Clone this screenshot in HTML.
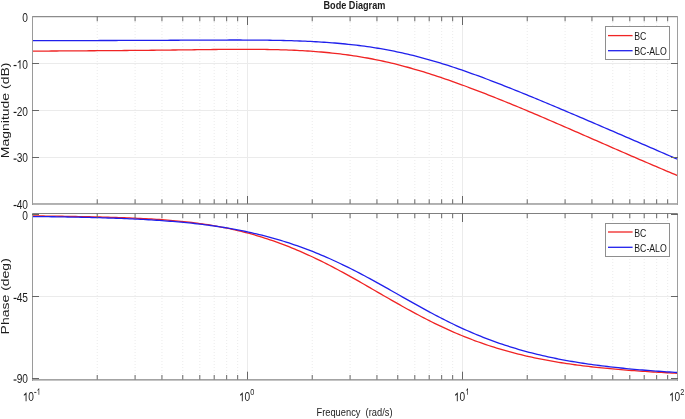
<!DOCTYPE html>
<html><head><meta charset="utf-8"><title>Bode Diagram</title>
<style>
html,body{margin:0;padding:0;background:#fff;width:685px;height:419px;overflow:hidden}
svg{display:block}
text{font-family:"Liberation Sans",sans-serif;fill:#1c1c1c}
.txt{filter:grayscale(1)}
.num text,.num path{fill:#1c1c1c}
.sup{font-size:9px}
.lg{font-size:10.9px;fill:#1a1a1a}
.ttl{font-size:10.6px;font-weight:bold;fill:#1a1a1a}
.lab{font-size:11.5px}
.ylab{font-size:14px}
</style></head><body>
<svg width="685" height="419" viewBox="0 0 685 419">
<defs>
<clipPath id="c1"><rect x="32.5" y="16.5" width="645.0" height="187.2"/></clipPath>
<clipPath id="c2"><rect x="32.5" y="213.5" width="645.0" height="166.0"/></clipPath>
</defs>
<rect width="685" height="419" fill="#fff"/>
<line x1="247.5" y1="16" x2="247.5" y2="204" stroke="#ebebeb"/>
<line x1="462.5" y1="16" x2="462.5" y2="204" stroke="#ebebeb"/>
<line x1="97.22" y1="16" x2="97.22" y2="204" stroke="#ebebeb" stroke-dasharray="1 2"/>
<line x1="135.08" y1="16" x2="135.08" y2="204" stroke="#ebebeb" stroke-dasharray="1 2"/>
<line x1="161.94" y1="16" x2="161.94" y2="204" stroke="#ebebeb" stroke-dasharray="1 2"/>
<line x1="182.78" y1="16" x2="182.78" y2="204" stroke="#ebebeb" stroke-dasharray="1 2"/>
<line x1="199.80" y1="16" x2="199.80" y2="204" stroke="#ebebeb" stroke-dasharray="1 2"/>
<line x1="214.20" y1="16" x2="214.20" y2="204" stroke="#ebebeb" stroke-dasharray="1 2"/>
<line x1="226.66" y1="16" x2="226.66" y2="204" stroke="#ebebeb" stroke-dasharray="1 2"/>
<line x1="237.66" y1="16" x2="237.66" y2="204" stroke="#ebebeb" stroke-dasharray="1 2"/>
<line x1="312.22" y1="16" x2="312.22" y2="204" stroke="#ebebeb" stroke-dasharray="1 2"/>
<line x1="350.08" y1="16" x2="350.08" y2="204" stroke="#ebebeb" stroke-dasharray="1 2"/>
<line x1="376.94" y1="16" x2="376.94" y2="204" stroke="#ebebeb" stroke-dasharray="1 2"/>
<line x1="397.78" y1="16" x2="397.78" y2="204" stroke="#ebebeb" stroke-dasharray="1 2"/>
<line x1="414.80" y1="16" x2="414.80" y2="204" stroke="#ebebeb" stroke-dasharray="1 2"/>
<line x1="429.20" y1="16" x2="429.20" y2="204" stroke="#ebebeb" stroke-dasharray="1 2"/>
<line x1="441.66" y1="16" x2="441.66" y2="204" stroke="#ebebeb" stroke-dasharray="1 2"/>
<line x1="452.66" y1="16" x2="452.66" y2="204" stroke="#ebebeb" stroke-dasharray="1 2"/>
<line x1="527.22" y1="16" x2="527.22" y2="204" stroke="#ebebeb" stroke-dasharray="1 2"/>
<line x1="565.08" y1="16" x2="565.08" y2="204" stroke="#ebebeb" stroke-dasharray="1 2"/>
<line x1="591.94" y1="16" x2="591.94" y2="204" stroke="#ebebeb" stroke-dasharray="1 2"/>
<line x1="612.78" y1="16" x2="612.78" y2="204" stroke="#ebebeb" stroke-dasharray="1 2"/>
<line x1="629.80" y1="16" x2="629.80" y2="204" stroke="#ebebeb" stroke-dasharray="1 2"/>
<line x1="644.20" y1="16" x2="644.20" y2="204" stroke="#ebebeb" stroke-dasharray="1 2"/>
<line x1="656.66" y1="16" x2="656.66" y2="204" stroke="#ebebeb" stroke-dasharray="1 2"/>
<line x1="667.66" y1="16" x2="667.66" y2="204" stroke="#ebebeb" stroke-dasharray="1 2"/>
<rect x="33" y="63" width="644" height="1" fill="#ebebeb"/>
<rect x="33" y="110" width="644" height="1" fill="#ebebeb"/>
<rect x="33" y="157" width="644" height="1" fill="#ebebeb"/>
<line x1="247.5" y1="214" x2="247.5" y2="380" stroke="#ebebeb"/>
<line x1="462.5" y1="214" x2="462.5" y2="380" stroke="#ebebeb"/>
<line x1="97.22" y1="214" x2="97.22" y2="380" stroke="#ebebeb" stroke-dasharray="1 2"/>
<line x1="135.08" y1="214" x2="135.08" y2="380" stroke="#ebebeb" stroke-dasharray="1 2"/>
<line x1="161.94" y1="214" x2="161.94" y2="380" stroke="#ebebeb" stroke-dasharray="1 2"/>
<line x1="182.78" y1="214" x2="182.78" y2="380" stroke="#ebebeb" stroke-dasharray="1 2"/>
<line x1="199.80" y1="214" x2="199.80" y2="380" stroke="#ebebeb" stroke-dasharray="1 2"/>
<line x1="214.20" y1="214" x2="214.20" y2="380" stroke="#ebebeb" stroke-dasharray="1 2"/>
<line x1="226.66" y1="214" x2="226.66" y2="380" stroke="#ebebeb" stroke-dasharray="1 2"/>
<line x1="237.66" y1="214" x2="237.66" y2="380" stroke="#ebebeb" stroke-dasharray="1 2"/>
<line x1="312.22" y1="214" x2="312.22" y2="380" stroke="#ebebeb" stroke-dasharray="1 2"/>
<line x1="350.08" y1="214" x2="350.08" y2="380" stroke="#ebebeb" stroke-dasharray="1 2"/>
<line x1="376.94" y1="214" x2="376.94" y2="380" stroke="#ebebeb" stroke-dasharray="1 2"/>
<line x1="397.78" y1="214" x2="397.78" y2="380" stroke="#ebebeb" stroke-dasharray="1 2"/>
<line x1="414.80" y1="214" x2="414.80" y2="380" stroke="#ebebeb" stroke-dasharray="1 2"/>
<line x1="429.20" y1="214" x2="429.20" y2="380" stroke="#ebebeb" stroke-dasharray="1 2"/>
<line x1="441.66" y1="214" x2="441.66" y2="380" stroke="#ebebeb" stroke-dasharray="1 2"/>
<line x1="452.66" y1="214" x2="452.66" y2="380" stroke="#ebebeb" stroke-dasharray="1 2"/>
<line x1="527.22" y1="214" x2="527.22" y2="380" stroke="#ebebeb" stroke-dasharray="1 2"/>
<line x1="565.08" y1="214" x2="565.08" y2="380" stroke="#ebebeb" stroke-dasharray="1 2"/>
<line x1="591.94" y1="214" x2="591.94" y2="380" stroke="#ebebeb" stroke-dasharray="1 2"/>
<line x1="612.78" y1="214" x2="612.78" y2="380" stroke="#ebebeb" stroke-dasharray="1 2"/>
<line x1="629.80" y1="214" x2="629.80" y2="380" stroke="#ebebeb" stroke-dasharray="1 2"/>
<line x1="644.20" y1="214" x2="644.20" y2="380" stroke="#ebebeb" stroke-dasharray="1 2"/>
<line x1="656.66" y1="214" x2="656.66" y2="380" stroke="#ebebeb" stroke-dasharray="1 2"/>
<line x1="667.66" y1="214" x2="667.66" y2="380" stroke="#ebebeb" stroke-dasharray="1 2"/>
<rect x="33" y="296" width="644" height="1" fill="#ebebeb"/>
<g fill="none" stroke-width="1.3" stroke-linejoin="round" clip-path="url(#c1)"><path d="M32.50,51.15 35.20,51.13 37.90,51.11 40.60,51.09 43.29,51.07 45.99,51.05 48.69,51.03 51.39,51.01 54.09,50.99 56.79,50.98 59.49,50.96 62.19,50.94 64.88,50.92 67.58,50.90 70.28,50.89 72.98,50.87 75.68,50.85 78.38,50.83 81.08,50.82 83.78,50.80 86.47,50.78 89.17,50.76 91.87,50.74 94.57,50.73 97.27,50.71 99.97,50.69 102.67,50.67 105.37,50.65 108.06,50.63 110.76,50.61 113.46,50.59 116.16,50.57 118.86,50.55 121.56,50.53 124.26,50.51 126.96,50.49 129.65,50.46 132.35,50.44 135.05,50.42 137.75,50.39 140.45,50.37 143.15,50.34 145.85,50.32 148.55,50.29 151.24,50.26 153.94,50.23 156.64,50.20 159.34,50.17 162.04,50.14 164.74,50.11 167.44,50.08 170.14,50.05 172.83,50.02 175.53,49.98 178.23,49.95 180.93,49.91 183.63,49.88 186.33,49.85 189.03,49.81 191.73,49.78 194.42,49.74 197.12,49.71 199.82,49.67 202.52,49.64 205.22,49.61 207.92,49.57 210.62,49.54 213.32,49.51 216.01,49.48 218.71,49.46 221.41,49.43 224.11,49.41 226.81,49.38 229.51,49.36 232.21,49.35 234.91,49.33 237.60,49.32 240.30,49.32 243.00,49.31 245.70,49.31 248.40,49.32 251.10,49.32 253.80,49.34 256.50,49.35 259.19,49.38 261.89,49.41 264.59,49.44 267.29,49.48 269.99,49.53 272.69,49.58 275.39,49.64 278.09,49.71 280.78,49.78 283.48,49.86 286.18,49.95 288.88,50.05 291.58,50.16 294.28,50.27 296.98,50.40 299.68,50.54 302.37,50.68 305.07,50.84 307.77,51.00 310.47,51.18 313.17,51.37 315.87,51.57 318.57,51.78 321.27,52.00 323.96,52.24 326.66,52.49 329.36,52.75 332.06,53.03 334.76,53.32 337.46,53.63 340.16,53.95 342.86,54.28 345.55,54.63 348.25,55.00 350.95,55.38 353.65,55.77 356.35,56.19 359.05,56.62 361.75,57.06 364.45,57.52 367.14,58.00 369.84,58.50 372.54,59.01 375.24,59.55 377.94,60.09 380.64,60.66 383.34,61.24 386.04,61.84 388.73,62.46 391.43,63.09 394.13,63.74 396.83,64.41 399.53,65.10 402.23,65.80 404.93,66.52 407.63,67.25 410.32,68.00 413.02,68.76 415.72,69.54 418.42,70.34 421.12,71.15 423.82,71.97 426.52,72.81 429.22,73.66 431.91,74.52 434.61,75.40 437.31,76.29 440.01,77.19 442.71,78.10 445.41,79.02 448.11,79.96 450.81,80.90 453.50,81.85 456.20,82.82 458.90,83.79 461.60,84.77 464.30,85.76 467.00,86.76 469.70,87.77 472.40,88.78 475.09,89.81 477.79,90.84 480.49,91.87 483.19,92.92 485.89,93.97 488.59,95.02 491.29,96.09 493.99,97.16 496.68,98.23 499.38,99.31 502.08,100.40 504.78,101.49 507.48,102.58 510.18,103.69 512.88,104.79 515.58,105.90 518.27,107.02 520.97,108.14 523.67,109.27 526.37,110.40 529.07,111.53 531.77,112.67 534.47,113.81 537.17,114.96 539.86,116.11 542.56,117.26 545.26,118.41 547.96,119.57 550.66,120.74 553.36,121.90 556.06,123.07 558.76,124.23 561.45,125.40 564.15,126.58 566.85,127.75 569.55,128.93 572.25,130.10 574.95,131.28 577.65,132.46 580.35,133.64 583.04,134.82 585.74,136.00 588.44,137.18 591.14,138.36 593.84,139.54 596.54,140.72 599.24,141.91 601.94,143.09 604.63,144.27 607.33,145.45 610.03,146.63 612.73,147.81 615.43,148.98 618.13,150.16 620.83,151.34 623.53,152.51 626.22,153.69 628.92,154.86 631.62,156.03 634.32,157.20 637.02,158.36 639.72,159.53 642.42,160.69 645.12,161.85 647.81,163.01 650.51,164.17 653.21,165.32 655.91,166.47 658.61,167.62 661.31,168.77 664.01,169.91 666.71,171.05 669.40,172.19 672.10,173.32 674.80,174.45 677.50,175.58" stroke="#f02424"/><path d="M32.50,40.61 35.20,40.61 37.90,40.60 40.60,40.60 43.29,40.60 45.99,40.60 48.69,40.60 51.39,40.59 54.09,40.59 56.79,40.59 59.49,40.59 62.19,40.58 64.88,40.58 67.58,40.58 70.28,40.57 72.98,40.57 75.68,40.56 78.38,40.56 81.08,40.56 83.78,40.55 86.47,40.55 89.17,40.54 91.87,40.54 94.57,40.53 97.27,40.53 99.97,40.52 102.67,40.52 105.37,40.51 108.06,40.50 110.76,40.50 113.46,40.49 116.16,40.48 118.86,40.47 121.56,40.47 124.26,40.46 126.96,40.45 129.65,40.44 132.35,40.43 135.05,40.42 137.75,40.41 140.45,40.40 143.15,40.39 145.85,40.38 148.55,40.37 151.24,40.36 153.94,40.35 156.64,40.34 159.34,40.33 162.04,40.31 164.74,40.30 167.44,40.29 170.14,40.27 172.83,40.26 175.53,40.25 178.23,40.23 180.93,40.22 183.63,40.21 186.33,40.19 189.03,40.18 191.73,40.16 194.42,40.15 197.12,40.14 199.82,40.12 202.52,40.11 205.22,40.10 207.92,40.09 210.62,40.08 213.32,40.07 216.01,40.06 218.71,40.05 221.41,40.04 224.11,40.03 226.81,40.03 229.51,40.02 232.21,40.02 234.91,40.02 237.60,40.02 240.30,40.02 243.00,40.03 245.70,40.04 248.40,40.05 251.10,40.06 253.80,40.08 256.50,40.10 259.19,40.12 261.89,40.14 264.59,40.17 267.29,40.21 269.99,40.25 272.69,40.29 275.39,40.33 278.09,40.38 280.78,40.44 283.48,40.50 286.18,40.57 288.88,40.64 291.58,40.72 294.28,40.80 296.98,40.89 299.68,40.99 302.37,41.10 305.07,41.21 307.77,41.33 310.47,41.46 313.17,41.59 315.87,41.74 318.57,41.89 321.27,42.06 323.96,42.23 326.66,42.41 329.36,42.61 332.06,42.81 334.76,43.02 337.46,43.25 340.16,43.49 342.86,43.74 345.55,44.00 348.25,44.28 350.95,44.56 353.65,44.87 356.35,45.18 359.05,45.51 361.75,45.86 364.45,46.22 367.14,46.59 369.84,46.98 372.54,47.39 375.24,47.81 377.94,48.25 380.64,48.70 383.34,49.17 386.04,49.66 388.73,50.16 391.43,50.69 394.13,51.22 396.83,51.78 399.53,52.35 402.23,52.94 404.93,53.55 407.63,54.18 410.32,54.82 413.02,55.48 415.72,56.15 418.42,56.84 421.12,57.55 423.82,58.28 426.52,59.02 429.22,59.77 431.91,60.55 434.61,61.33 437.31,62.14 440.01,62.95 442.71,63.79 445.41,64.63 448.11,65.49 450.81,66.36 453.50,67.25 456.20,68.15 458.90,69.06 461.60,69.98 464.30,70.91 467.00,71.85 469.70,72.81 472.40,73.77 475.09,74.75 477.79,75.73 480.49,76.73 483.19,77.73 485.89,78.74 488.59,79.76 491.29,80.78 493.99,81.82 496.68,82.86 499.38,83.91 502.08,84.96 504.78,86.02 507.48,87.09 510.18,88.16 512.88,89.24 515.58,90.32 518.27,91.41 520.97,92.50 523.67,93.59 526.37,94.70 529.07,95.80 531.77,96.91 534.47,98.02 537.17,99.14 539.86,100.25 542.56,101.38 545.26,102.50 547.96,103.63 550.66,104.76 553.36,105.89 556.06,107.02 558.76,108.16 561.45,109.30 564.15,110.44 566.85,111.58 569.55,112.73 572.25,113.88 574.95,115.02 577.65,116.17 580.35,117.32 583.04,118.47 585.74,119.63 588.44,120.78 591.14,121.94 593.84,123.09 596.54,124.25 599.24,125.41 601.94,126.57 604.63,127.73 607.33,128.89 610.03,130.05 612.73,131.21 615.43,132.38 618.13,133.54 620.83,134.71 623.53,135.87 626.22,137.04 628.92,138.20 631.62,139.37 634.32,140.53 637.02,141.70 639.72,142.87 642.42,144.04 645.12,145.21 647.81,146.38 650.51,147.54 653.21,148.71 655.91,149.88 658.61,151.06 661.31,152.23 664.01,153.40 666.71,154.57 669.40,155.74 672.10,156.91 674.80,158.09 677.50,159.26" stroke="#2020ec"/></g>
<g fill="none" stroke-width="1.3" stroke-linejoin="round" clip-path="url(#c2)"><path d="M32.50,215.89 35.20,215.92 37.90,215.95 40.60,215.99 43.29,216.02 45.99,216.05 48.69,216.09 51.39,216.12 54.09,216.16 56.79,216.19 59.49,216.23 62.19,216.27 64.88,216.31 67.58,216.35 70.28,216.39 72.98,216.44 75.68,216.48 78.38,216.53 81.08,216.58 83.78,216.63 86.47,216.69 89.17,216.74 91.87,216.80 94.57,216.86 97.27,216.92 99.97,216.99 102.67,217.05 105.37,217.12 108.06,217.20 110.76,217.28 113.46,217.36 116.16,217.44 118.86,217.53 121.56,217.62 124.26,217.72 126.96,217.82 129.65,217.93 132.35,218.04 135.05,218.16 137.75,218.28 140.45,218.41 143.15,218.54 145.85,218.68 148.55,218.83 151.24,218.99 153.94,219.15 156.64,219.32 159.34,219.50 162.04,219.69 164.74,219.89 167.44,220.10 170.14,220.32 172.83,220.55 175.53,220.79 178.23,221.04 180.93,221.31 183.63,221.58 186.33,221.87 189.03,222.18 191.73,222.49 194.42,222.83 197.12,223.17 199.82,223.54 202.52,223.91 205.22,224.31 207.92,224.72 210.62,225.15 213.32,225.60 216.01,226.07 218.71,226.55 221.41,227.06 224.11,227.58 226.81,228.13 229.51,228.69 232.21,229.28 234.91,229.88 237.60,230.51 240.30,231.16 243.00,231.83 245.70,232.53 248.40,233.24 251.10,233.98 253.80,234.74 256.50,235.53 259.19,236.33 261.89,237.16 264.59,238.01 267.29,238.89 269.99,239.79 272.69,240.71 275.39,241.66 278.09,242.62 280.78,243.61 283.48,244.63 286.18,245.67 288.88,246.73 291.58,247.81 294.28,248.92 296.98,250.05 299.68,251.20 302.37,252.37 305.07,253.57 307.77,254.79 310.47,256.02 313.17,257.28 315.87,258.57 318.57,259.87 321.27,261.19 323.96,262.53 326.66,263.89 329.36,265.27 332.06,266.67 334.76,268.08 337.46,269.51 340.16,270.96 342.86,272.42 345.55,273.89 348.25,275.38 350.95,276.88 353.65,278.39 356.35,279.91 359.05,281.44 361.75,282.98 364.45,284.53 367.14,286.08 369.84,287.64 372.54,289.19 375.24,290.75 377.94,292.32 380.64,293.88 383.34,295.44 386.04,296.99 388.73,298.55 391.43,300.09 394.13,301.63 396.83,303.17 399.53,304.69 402.23,306.21 404.93,307.71 407.63,309.21 410.32,310.69 413.02,312.16 415.72,313.61 418.42,315.05 421.12,316.47 423.82,317.87 426.52,319.26 429.22,320.63 431.91,321.98 434.61,323.32 437.31,324.63 440.01,325.92 442.71,327.19 445.41,328.44 448.11,329.67 450.81,330.88 453.50,332.07 456.20,333.24 458.90,334.38 461.60,335.50 464.30,336.60 467.00,337.68 469.70,338.73 472.40,339.76 475.09,340.77 477.79,341.76 480.49,342.73 483.19,343.68 485.89,344.60 488.59,345.50 491.29,346.38 493.99,347.24 496.68,348.08 499.38,348.90 502.08,349.70 504.78,350.48 507.48,351.23 510.18,351.97 512.88,352.69 515.58,353.40 518.27,354.08 520.97,354.74 523.67,355.39 526.37,356.02 529.07,356.63 531.77,357.22 534.47,357.80 537.17,358.36 539.86,358.91 542.56,359.44 545.26,359.96 547.96,360.46 550.66,360.94 553.36,361.42 556.06,361.88 558.76,362.32 561.45,362.75 564.15,363.17 566.85,363.58 569.55,363.98 572.25,364.36 574.95,364.74 577.65,365.10 580.35,365.45 583.04,365.80 585.74,366.13 588.44,366.45 591.14,366.76 593.84,367.07 596.54,367.36 599.24,367.65 601.94,367.93 604.63,368.20 607.33,368.46 610.03,368.72 612.73,368.97 615.43,369.21 618.13,369.44 620.83,369.67 623.53,369.89 626.22,370.11 628.92,370.32 631.62,370.52 634.32,370.72 637.02,370.91 639.72,371.10 642.42,371.29 645.12,371.46 647.81,371.64 650.51,371.81 653.21,371.98 655.91,372.14 658.61,372.30 661.31,372.45 664.01,372.60 666.71,372.75 669.40,372.90 672.10,373.04 674.80,373.18 677.50,373.32" stroke="#f02424"/><path d="M32.50,216.54 35.20,216.56 37.90,216.59 40.60,216.61 43.29,216.64 45.99,216.67 48.69,216.70 51.39,216.74 54.09,216.77 56.79,216.81 59.49,216.85 62.19,216.89 64.88,216.94 67.58,216.98 70.28,217.03 72.98,217.08 75.68,217.13 78.38,217.19 81.08,217.25 83.78,217.31 86.47,217.37 89.17,217.43 91.87,217.50 94.57,217.57 97.27,217.65 99.97,217.72 102.67,217.81 105.37,217.89 108.06,217.98 110.76,218.07 113.46,218.16 116.16,218.26 118.86,218.36 121.56,218.46 124.26,218.57 126.96,218.69 129.65,218.80 132.35,218.93 135.05,219.06 137.75,219.19 140.45,219.33 143.15,219.47 145.85,219.62 148.55,219.77 151.24,219.93 153.94,220.10 156.64,220.27 159.34,220.45 162.04,220.64 164.74,220.83 167.44,221.03 170.14,221.24 172.83,221.45 175.53,221.68 178.23,221.91 180.93,222.15 183.63,222.41 186.33,222.67 189.03,222.94 191.73,223.22 194.42,223.51 197.12,223.81 199.82,224.12 202.52,224.45 205.22,224.79 207.92,225.14 210.62,225.50 213.32,225.87 216.01,226.26 218.71,226.66 221.41,227.08 224.11,227.51 226.81,227.95 229.51,228.41 232.21,228.89 234.91,229.38 237.60,229.89 240.30,230.41 243.00,230.95 245.70,231.51 248.40,232.08 251.10,232.67 253.80,233.28 256.50,233.91 259.19,234.56 261.89,235.22 264.59,235.91 267.29,236.61 269.99,237.33 272.69,238.08 275.39,238.84 278.09,239.62 280.78,240.43 283.48,241.25 286.18,242.10 288.88,242.96 291.58,243.85 294.28,244.76 296.98,245.68 299.68,246.64 302.37,247.61 305.07,248.60 307.77,249.62 310.47,250.66 313.17,251.72 315.87,252.80 318.57,253.90 321.27,255.03 323.96,256.17 326.66,257.34 329.36,258.53 332.06,259.74 334.76,260.98 337.46,262.23 340.16,263.50 342.86,264.79 345.55,266.11 348.25,267.44 350.95,268.79 353.65,270.15 356.35,271.54 359.05,272.94 361.75,274.35 364.45,275.79 367.14,277.23 369.84,278.69 372.54,280.16 375.24,281.64 377.94,283.13 380.64,284.63 383.34,286.14 386.04,287.66 388.73,289.18 391.43,290.71 394.13,292.23 396.83,293.76 399.53,295.30 402.23,296.83 404.93,298.36 407.63,299.88 410.32,301.40 413.02,302.92 415.72,304.43 418.42,305.93 421.12,307.42 423.82,308.91 426.52,310.38 429.22,311.84 431.91,313.28 434.61,314.71 437.31,316.13 440.01,317.53 442.71,318.91 445.41,320.28 448.11,321.63 450.81,322.96 453.50,324.27 456.20,325.56 458.90,326.83 461.60,328.07 464.30,329.30 467.00,330.51 469.70,331.69 472.40,332.86 475.09,334.00 477.79,335.12 480.49,336.21 483.19,337.29 485.89,338.34 488.59,339.37 491.29,340.38 493.99,341.36 496.68,342.33 499.38,343.27 502.08,344.19 504.78,345.09 507.48,345.97 510.18,346.82 512.88,347.66 515.58,348.48 518.27,349.27 520.97,350.05 523.67,350.81 526.37,351.54 529.07,352.26 531.77,352.96 534.47,353.65 537.17,354.31 539.86,354.96 542.56,355.59 545.26,356.20 547.96,356.80 550.66,357.38 553.36,357.95 556.06,358.50 558.76,359.03 561.45,359.56 564.15,360.06 566.85,360.55 569.55,361.03 572.25,361.50 574.95,361.95 577.65,362.39 580.35,362.82 583.04,363.24 585.74,363.65 588.44,364.04 591.14,364.42 593.84,364.80 596.54,365.16 599.24,365.51 601.94,365.85 604.63,366.18 607.33,366.51 610.03,366.82 612.73,367.13 615.43,367.43 618.13,367.72 620.83,368.00 623.53,368.27 626.22,368.54 628.92,368.80 631.62,369.06 634.32,369.30 637.02,369.54 639.72,369.78 642.42,370.00 645.12,370.23 647.81,370.44 650.51,370.65 653.21,370.86 655.91,371.06 658.61,371.26 661.31,371.45 664.01,371.63 666.71,371.81 669.40,371.99 672.10,372.17 674.80,372.33 677.50,372.50" stroke="#2020ec"/></g>
<rect x="32" y="16" width="646" height="1" fill="#8c8c8c"/><rect x="32" y="17" width="646" height="1" fill="#e2e2e2"/><rect x="32" y="203" width="646" height="1" fill="#b0b0b0"/><rect x="32" y="204" width="646" height="1" fill="#b4b4b4"/><rect x="32" y="16" width="1" height="189" fill="#9a9a9a"/><rect x="677" y="16" width="1" height="189" fill="#9e9e9e"/><rect x="32" y="213" width="646" height="1" fill="#808080"/><rect x="32" y="379" width="646" height="1" fill="#a3a3a3"/><rect x="32" y="380" width="646" height="1" fill="#c4c4c4"/><rect x="32" y="213" width="1" height="168" fill="#9a9a9a"/><rect x="677" y="213" width="1" height="168" fill="#9e9e9e"/>
<g stroke="#666" stroke-width="1">
<line x1="247.5" y1="16.5" x2="247.5" y2="25.0"/><line x1="247.5" y1="203.8" x2="247.5" y2="196.0"/>
<line x1="462.5" y1="16.5" x2="462.5" y2="25.0"/><line x1="462.5" y1="203.8" x2="462.5" y2="196.0"/>
<line x1="97.22" y1="16.5" x2="97.22" y2="21.3"/><line x1="97.22" y1="203.8" x2="97.22" y2="199.3"/>
<line x1="135.08" y1="16.5" x2="135.08" y2="21.3"/><line x1="135.08" y1="203.8" x2="135.08" y2="199.3"/>
<line x1="161.94" y1="16.5" x2="161.94" y2="21.3"/><line x1="161.94" y1="203.8" x2="161.94" y2="199.3"/>
<line x1="182.78" y1="16.5" x2="182.78" y2="21.3"/><line x1="182.78" y1="203.8" x2="182.78" y2="199.3"/>
<line x1="199.80" y1="16.5" x2="199.80" y2="21.3"/><line x1="199.80" y1="203.8" x2="199.80" y2="199.3"/>
<line x1="214.20" y1="16.5" x2="214.20" y2="21.3"/><line x1="214.20" y1="203.8" x2="214.20" y2="199.3"/>
<line x1="226.66" y1="16.5" x2="226.66" y2="21.3"/><line x1="226.66" y1="203.8" x2="226.66" y2="199.3"/>
<line x1="237.66" y1="16.5" x2="237.66" y2="21.3"/><line x1="237.66" y1="203.8" x2="237.66" y2="199.3"/>
<line x1="312.22" y1="16.5" x2="312.22" y2="21.3"/><line x1="312.22" y1="203.8" x2="312.22" y2="199.3"/>
<line x1="350.08" y1="16.5" x2="350.08" y2="21.3"/><line x1="350.08" y1="203.8" x2="350.08" y2="199.3"/>
<line x1="376.94" y1="16.5" x2="376.94" y2="21.3"/><line x1="376.94" y1="203.8" x2="376.94" y2="199.3"/>
<line x1="397.78" y1="16.5" x2="397.78" y2="21.3"/><line x1="397.78" y1="203.8" x2="397.78" y2="199.3"/>
<line x1="414.80" y1="16.5" x2="414.80" y2="21.3"/><line x1="414.80" y1="203.8" x2="414.80" y2="199.3"/>
<line x1="429.20" y1="16.5" x2="429.20" y2="21.3"/><line x1="429.20" y1="203.8" x2="429.20" y2="199.3"/>
<line x1="441.66" y1="16.5" x2="441.66" y2="21.3"/><line x1="441.66" y1="203.8" x2="441.66" y2="199.3"/>
<line x1="452.66" y1="16.5" x2="452.66" y2="21.3"/><line x1="452.66" y1="203.8" x2="452.66" y2="199.3"/>
<line x1="527.22" y1="16.5" x2="527.22" y2="21.3"/><line x1="527.22" y1="203.8" x2="527.22" y2="199.3"/>
<line x1="565.08" y1="16.5" x2="565.08" y2="21.3"/><line x1="565.08" y1="203.8" x2="565.08" y2="199.3"/>
<line x1="591.94" y1="16.5" x2="591.94" y2="21.3"/><line x1="591.94" y1="203.8" x2="591.94" y2="199.3"/>
<line x1="612.78" y1="16.5" x2="612.78" y2="21.3"/><line x1="612.78" y1="203.8" x2="612.78" y2="199.3"/>
<line x1="629.80" y1="16.5" x2="629.80" y2="21.3"/><line x1="629.80" y1="203.8" x2="629.80" y2="199.3"/>
<line x1="644.20" y1="16.5" x2="644.20" y2="21.3"/><line x1="644.20" y1="203.8" x2="644.20" y2="199.3"/>
<line x1="656.66" y1="16.5" x2="656.66" y2="21.3"/><line x1="656.66" y1="203.8" x2="656.66" y2="199.3"/>
<line x1="667.66" y1="16.5" x2="667.66" y2="21.3"/><line x1="667.66" y1="203.8" x2="667.66" y2="199.3"/>
<line x1="32" y1="63.5" x2="39" y2="63.5"/><line x1="678" y1="63.5" x2="671" y2="63.5"/>
<line x1="32" y1="110.5" x2="39" y2="110.5"/><line x1="678" y1="110.5" x2="671" y2="110.5"/>
<line x1="32" y1="157.5" x2="39" y2="157.5"/><line x1="678" y1="157.5" x2="671" y2="157.5"/>
<line x1="247.5" y1="213.5" x2="247.5" y2="222.0"/><line x1="247.5" y1="379.5" x2="247.5" y2="371.7"/>
<line x1="462.5" y1="213.5" x2="462.5" y2="222.0"/><line x1="462.5" y1="379.5" x2="462.5" y2="371.7"/>
<line x1="97.22" y1="213.5" x2="97.22" y2="218.3"/><line x1="97.22" y1="379.5" x2="97.22" y2="375.0"/>
<line x1="135.08" y1="213.5" x2="135.08" y2="218.3"/><line x1="135.08" y1="379.5" x2="135.08" y2="375.0"/>
<line x1="161.94" y1="213.5" x2="161.94" y2="218.3"/><line x1="161.94" y1="379.5" x2="161.94" y2="375.0"/>
<line x1="182.78" y1="213.5" x2="182.78" y2="218.3"/><line x1="182.78" y1="379.5" x2="182.78" y2="375.0"/>
<line x1="199.80" y1="213.5" x2="199.80" y2="218.3"/><line x1="199.80" y1="379.5" x2="199.80" y2="375.0"/>
<line x1="214.20" y1="213.5" x2="214.20" y2="218.3"/><line x1="214.20" y1="379.5" x2="214.20" y2="375.0"/>
<line x1="226.66" y1="213.5" x2="226.66" y2="218.3"/><line x1="226.66" y1="379.5" x2="226.66" y2="375.0"/>
<line x1="237.66" y1="213.5" x2="237.66" y2="218.3"/><line x1="237.66" y1="379.5" x2="237.66" y2="375.0"/>
<line x1="312.22" y1="213.5" x2="312.22" y2="218.3"/><line x1="312.22" y1="379.5" x2="312.22" y2="375.0"/>
<line x1="350.08" y1="213.5" x2="350.08" y2="218.3"/><line x1="350.08" y1="379.5" x2="350.08" y2="375.0"/>
<line x1="376.94" y1="213.5" x2="376.94" y2="218.3"/><line x1="376.94" y1="379.5" x2="376.94" y2="375.0"/>
<line x1="397.78" y1="213.5" x2="397.78" y2="218.3"/><line x1="397.78" y1="379.5" x2="397.78" y2="375.0"/>
<line x1="414.80" y1="213.5" x2="414.80" y2="218.3"/><line x1="414.80" y1="379.5" x2="414.80" y2="375.0"/>
<line x1="429.20" y1="213.5" x2="429.20" y2="218.3"/><line x1="429.20" y1="379.5" x2="429.20" y2="375.0"/>
<line x1="441.66" y1="213.5" x2="441.66" y2="218.3"/><line x1="441.66" y1="379.5" x2="441.66" y2="375.0"/>
<line x1="452.66" y1="213.5" x2="452.66" y2="218.3"/><line x1="452.66" y1="379.5" x2="452.66" y2="375.0"/>
<line x1="527.22" y1="213.5" x2="527.22" y2="218.3"/><line x1="527.22" y1="379.5" x2="527.22" y2="375.0"/>
<line x1="565.08" y1="213.5" x2="565.08" y2="218.3"/><line x1="565.08" y1="379.5" x2="565.08" y2="375.0"/>
<line x1="591.94" y1="213.5" x2="591.94" y2="218.3"/><line x1="591.94" y1="379.5" x2="591.94" y2="375.0"/>
<line x1="612.78" y1="213.5" x2="612.78" y2="218.3"/><line x1="612.78" y1="379.5" x2="612.78" y2="375.0"/>
<line x1="629.80" y1="213.5" x2="629.80" y2="218.3"/><line x1="629.80" y1="379.5" x2="629.80" y2="375.0"/>
<line x1="644.20" y1="213.5" x2="644.20" y2="218.3"/><line x1="644.20" y1="379.5" x2="644.20" y2="375.0"/>
<line x1="656.66" y1="213.5" x2="656.66" y2="218.3"/><line x1="656.66" y1="379.5" x2="656.66" y2="375.0"/>
<line x1="667.66" y1="213.5" x2="667.66" y2="218.3"/><line x1="667.66" y1="379.5" x2="667.66" y2="375.0"/>
<line x1="32" y1="214.5" x2="39" y2="214.5"/><line x1="678" y1="214.5" x2="671" y2="214.5"/>
<line x1="32" y1="296.5" x2="39" y2="296.5"/><line x1="678" y1="296.5" x2="671" y2="296.5"/>
<line x1="32" y1="378.5" x2="39" y2="378.5"/><line x1="678" y1="378.5" x2="671" y2="378.5"/>
</g>
<rect x="605.5" y="26.5" width="64" height="33" fill="#fff" stroke="#8e8e8e"/><line x1="608" y1="35.6" x2="632.6" y2="35.6" stroke="#f02424" stroke-width="1.3"/><line x1="608" y1="50.7" x2="632.6" y2="50.7" stroke="#2020ec" stroke-width="1.3"/>
<rect x="605.5" y="223.5" width="64" height="33" fill="#fff" stroke="#8e8e8e"/><line x1="608" y1="232.0" x2="632.6" y2="232.0" stroke="#f02424" stroke-width="1.3"/><line x1="608" y1="247.3" x2="632.6" y2="247.3" stroke="#2020ec" stroke-width="1.3"/>
<g class="txt">
<text class="lg" transform="translate(634.3,39.8) scale(0.80,1)">BC</text><text class="lg" transform="translate(634.3,54.9) scale(0.80,1)">BC-ALO</text>
<text class="lg" transform="translate(634.3,236.70000000000002) scale(0.80,1)">BC</text><text class="lg" transform="translate(634.3,251.8) scale(0.80,1)">BC-ALO</text>
<g class="num" transform="translate(22.347,21.900) scale(0.82,1)"><text x="0.000" y="0" style="font-size:12.4px">0</text></g>
<g class="num" transform="translate(13.307,68.800) scale(0.82,1)"><path d="M28,-215 H318 V-312 H28 Z" transform="translate(0.000,0) scale(0.01240)"/><path d="M372.6,0 L284.7,0 L284.7,-560 Q252.9,-529.8 201.2,-499.5 Q149.4,-469.2 108.4,-454.1 L108.4,-539 Q182.1,-573.7 237.3,-623 Q292.5,-672.4 315.4,-718.8 L372.6,-718.8 Z" transform="translate(4.129,0) scale(0.01240)"/><text x="11.024" y="0" style="font-size:12.4px">0</text></g>
<g class="num" transform="translate(13.307,115.700) scale(0.82,1)"><path d="M28,-215 H318 V-312 H28 Z" transform="translate(0.000,0) scale(0.01240)"/><text x="4.129" y="0" style="font-size:12.4px">2</text><text x="11.024" y="0" style="font-size:12.4px">0</text></g>
<g class="num" transform="translate(13.307,162.400) scale(0.82,1)"><path d="M28,-215 H318 V-312 H28 Z" transform="translate(0.000,0) scale(0.01240)"/><text x="4.129" y="0" style="font-size:12.4px">3</text><text x="11.024" y="0" style="font-size:12.4px">0</text></g>
<g class="num" transform="translate(13.307,208.800) scale(0.82,1)"><path d="M28,-215 H318 V-312 H28 Z" transform="translate(0.000,0) scale(0.01240)"/><text x="4.129" y="0" style="font-size:12.4px">4</text><text x="11.024" y="0" style="font-size:12.4px">0</text></g>
<g class="num" transform="translate(22.347,219.800) scale(0.82,1)"><text x="0.000" y="0" style="font-size:12.4px">0</text></g>
<g class="num" transform="translate(13.307,301.700) scale(0.82,1)"><path d="M28,-215 H318 V-312 H28 Z" transform="translate(0.000,0) scale(0.01240)"/><text x="4.129" y="0" style="font-size:12.4px">4</text><text x="11.024" y="0" style="font-size:12.4px">5</text></g>
<g class="num" transform="translate(13.307,383.300) scale(0.82,1)"><path d="M28,-215 H318 V-312 H28 Z" transform="translate(0.000,0) scale(0.01240)"/><text x="4.129" y="0" style="font-size:12.4px">9</text><text x="11.024" y="0" style="font-size:12.4px">0</text></g>
<g class="num" transform="translate(22.716,401.350) scale(0.82,1)"><path d="M372.6,0 L284.7,0 L284.7,-560 Q252.9,-529.8 201.2,-499.5 Q149.4,-469.2 108.4,-454.1 L108.4,-539 Q182.1,-573.7 237.3,-623 Q292.5,-672.4 315.4,-718.8 L372.6,-718.8 Z" transform="translate(0.000,0) scale(0.01240)"/><text x="6.894" y="0" style="font-size:12.4px">0</text><path d="M28,-215 H318 V-312 H28 Z" transform="translate(13.789,-6.6) scale(0.00900)"/><path d="M372.6,0 L284.7,0 L284.7,-560 Q252.9,-529.8 201.2,-499.5 Q149.4,-469.2 108.4,-454.1 L108.4,-539 Q182.1,-573.7 237.3,-623 Q292.5,-672.4 315.4,-718.8 L372.6,-718.8 Z" transform="translate(16.786,-6.6) scale(0.00900)"/></g>
<g class="num" transform="translate(238.945,401.350) scale(0.82,1)"><path d="M372.6,0 L284.7,0 L284.7,-560 Q252.9,-529.8 201.2,-499.5 Q149.4,-469.2 108.4,-454.1 L108.4,-539 Q182.1,-573.7 237.3,-623 Q292.5,-672.4 315.4,-718.8 L372.6,-718.8 Z" transform="translate(0.000,0) scale(0.01240)"/><text x="6.894" y="0" style="font-size:12.4px">0</text><text x="13.789" y="-6.6" style="font-size:9.0px">0</text></g>
<g class="num" transform="translate(453.945,401.350) scale(0.82,1)"><path d="M372.6,0 L284.7,0 L284.7,-560 Q252.9,-529.8 201.2,-499.5 Q149.4,-469.2 108.4,-454.1 L108.4,-539 Q182.1,-573.7 237.3,-623 Q292.5,-672.4 315.4,-718.8 L372.6,-718.8 Z" transform="translate(0.000,0) scale(0.01240)"/><text x="6.894" y="0" style="font-size:12.4px">0</text><path d="M372.6,0 L284.7,0 L284.7,-560 Q252.9,-529.8 201.2,-499.5 Q149.4,-469.2 108.4,-454.1 L108.4,-539 Q182.1,-573.7 237.3,-623 Q292.5,-672.4 315.4,-718.8 L372.6,-718.8 Z" transform="translate(13.789,-6.6) scale(0.00900)"/></g>
<g class="num" transform="translate(668.945,401.350) scale(0.82,1)"><path d="M372.6,0 L284.7,0 L284.7,-560 Q252.9,-529.8 201.2,-499.5 Q149.4,-469.2 108.4,-454.1 L108.4,-539 Q182.1,-573.7 237.3,-623 Q292.5,-672.4 315.4,-718.8 L372.6,-718.8 Z" transform="translate(0.000,0) scale(0.01240)"/><text x="6.894" y="0" style="font-size:12.4px">0</text><text x="13.789" y="-6.6" style="font-size:9.0px">2</text></g>
<text class="ttl" text-anchor="middle" transform="translate(354.4,8.6) scale(0.862,1)">Bode Diagram</text>
<text class="lab" text-anchor="middle" transform="translate(354.5,415.9) scale(0.81,1)" style="white-space:pre" xml:space="preserve">Frequency  (rad/s)</text>
<text class="ylab" text-anchor="middle" transform="translate(8.9,110.4) rotate(-90) scale(1,0.76)">Magnitude (dB)</text>
<text class="ylab" text-anchor="middle" transform="translate(8.9,296.3) rotate(-90) scale(1,0.76)">Phase (deg)</text>
</g>
</svg>
</body></html>
